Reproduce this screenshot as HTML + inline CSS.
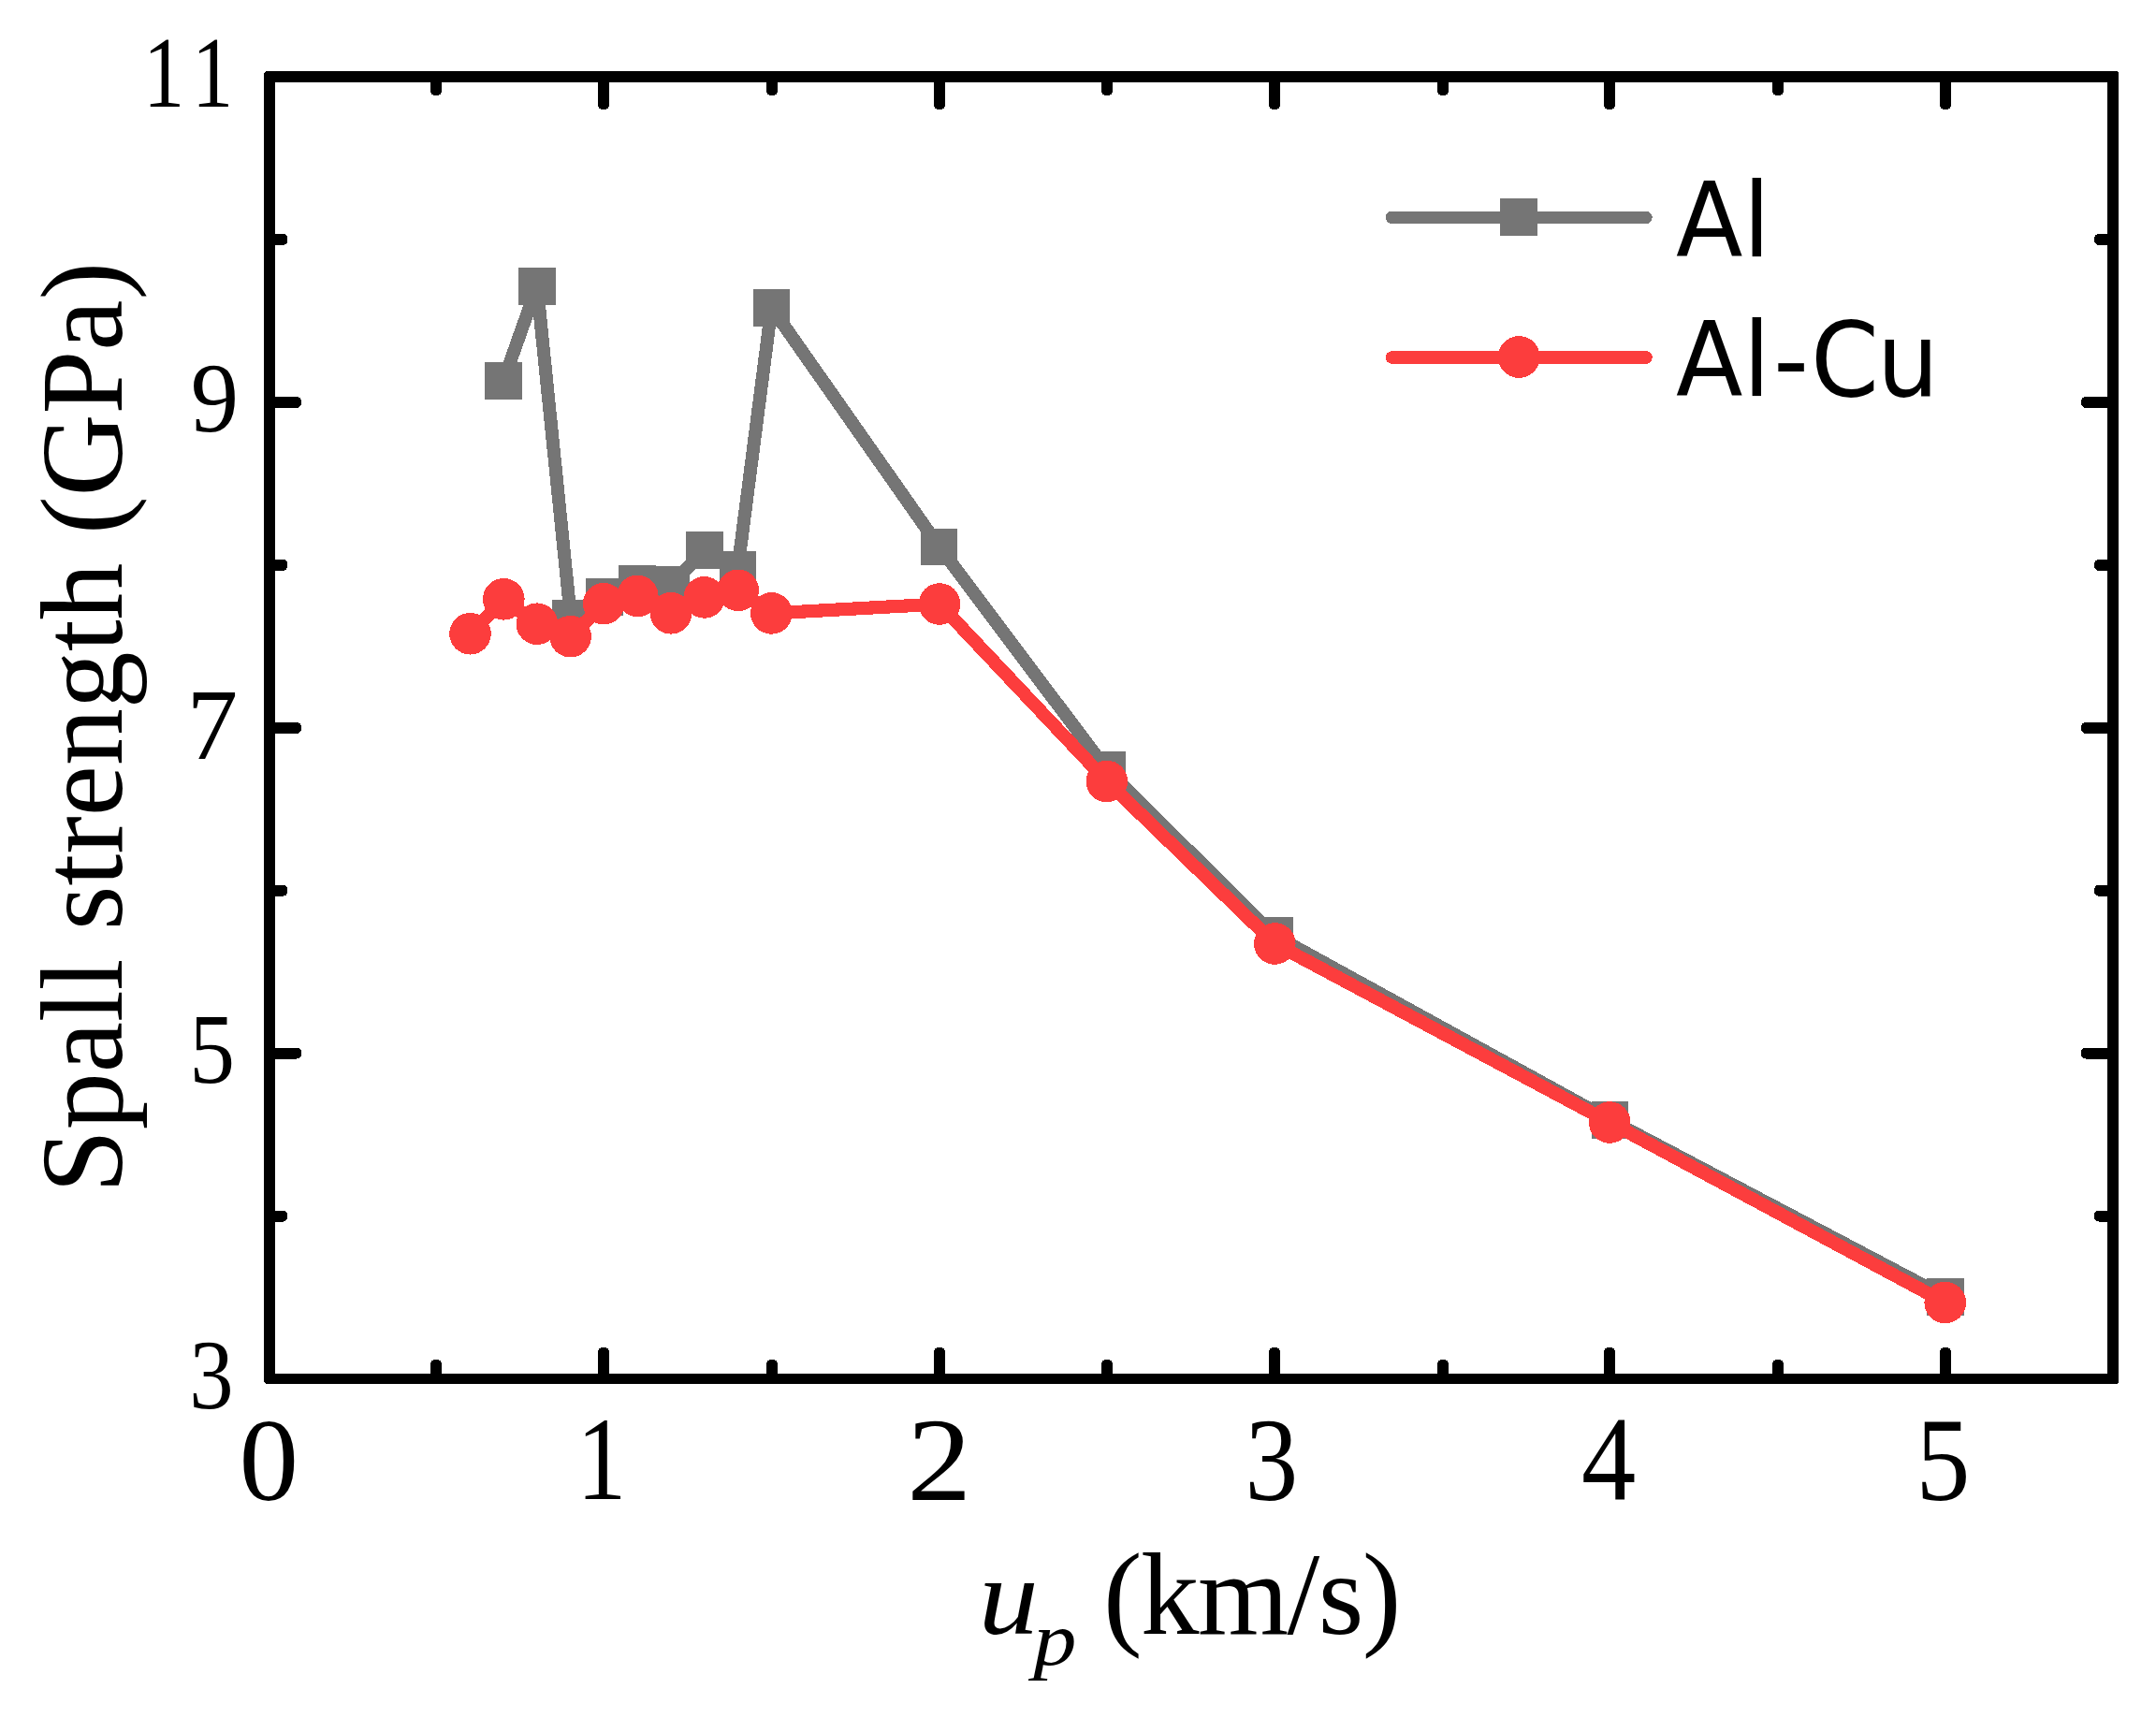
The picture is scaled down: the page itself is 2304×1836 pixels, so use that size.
<!DOCTYPE html>
<html lang="en"><head><meta charset="utf-8"><title>Spall strength vs particle velocity</title>
<style>html,body{margin:0;padding:0;background:#fff;}body{width:2304px;height:1836px;overflow:hidden;}svg{display:block;}.ser{font-family:"Liberation Serif",serif;fill:#000;}</style></head><body>
<svg width="2304" height="1836" viewBox="0 0 2304 1836">
<rect x="0" y="0" width="2304" height="1836" fill="#ffffff"/>
<g id="series-al" shape-rendering="crispEdges">
<polyline points="538.0,406.9 573.9,306.1 610.0,660.8 646.0,638.0 681.0,624.0 717.3,624.8 753.0,587.9 788.3,608.8 824.5,328.8 1003.6,584.3 1183.0,823.0 1362.3,1000.0 1720.3,1196.8 2079.0,1386.0" fill="none" stroke="#757575" stroke-width="14.0" stroke-linejoin="round" stroke-linecap="round"/>
<rect x="518.2" y="387.1" width="39.6" height="39.6" fill="#757575"/>
<rect x="554.1" y="286.3" width="39.6" height="39.6" fill="#757575"/>
<rect x="590.2" y="641.0" width="39.6" height="39.6" fill="#757575"/>
<rect x="626.2" y="618.2" width="39.6" height="39.6" fill="#757575"/>
<rect x="661.2" y="604.2" width="39.6" height="39.6" fill="#757575"/>
<rect x="697.5" y="605.0" width="39.6" height="39.6" fill="#757575"/>
<rect x="733.2" y="568.1" width="39.6" height="39.6" fill="#757575"/>
<rect x="768.5" y="589.0" width="39.6" height="39.6" fill="#757575"/>
<rect x="804.7" y="309.0" width="39.6" height="39.6" fill="#757575"/>
<rect x="983.8" y="564.5" width="39.6" height="39.6" fill="#757575"/>
<rect x="1163.2" y="803.2" width="39.6" height="39.6" fill="#757575"/>
<rect x="1342.5" y="980.2" width="39.6" height="39.6" fill="#757575"/>
<rect x="1700.5" y="1177.0" width="39.6" height="39.6" fill="#757575"/>
<rect x="2059.2" y="1366.2" width="39.6" height="39.6" fill="#757575"/>
</g>
<g id="series-alcu" shape-rendering="crispEdges">
<polyline points="502.5,677.2 538.3,640.3 573.9,666.7 609.6,680.2 645.2,645.2 681.3,636.9 717.0,655.3 752.7,638.4 788.7,630.8 824.4,655.4 1004.0,645.5 1182.8,835.0 1362.3,1008.5 1720.2,1199.5 2078.7,1392.0" fill="none" stroke="#FC3D3D" stroke-width="14.2" stroke-linejoin="round" stroke-linecap="round"/>
<circle cx="502.5" cy="677.2" r="22.3" fill="#FC3D3D"/>
<circle cx="538.3" cy="640.3" r="22.3" fill="#FC3D3D"/>
<circle cx="573.9" cy="666.7" r="22.3" fill="#FC3D3D"/>
<circle cx="609.6" cy="680.2" r="22.3" fill="#FC3D3D"/>
<circle cx="645.2" cy="645.2" r="22.3" fill="#FC3D3D"/>
<circle cx="681.3" cy="636.9" r="22.3" fill="#FC3D3D"/>
<circle cx="717.0" cy="655.3" r="22.3" fill="#FC3D3D"/>
<circle cx="752.7" cy="638.4" r="22.3" fill="#FC3D3D"/>
<circle cx="788.7" cy="630.8" r="22.3" fill="#FC3D3D"/>
<circle cx="824.4" cy="655.4" r="22.3" fill="#FC3D3D"/>
<circle cx="1004.0" cy="645.5" r="22.3" fill="#FC3D3D"/>
<circle cx="1182.8" cy="835.0" r="22.3" fill="#FC3D3D"/>
<circle cx="1362.3" cy="1008.5" r="22.3" fill="#FC3D3D"/>
<circle cx="1720.2" cy="1199.5" r="22.3" fill="#FC3D3D"/>
<circle cx="2078.7" cy="1392.0" r="22.3" fill="#FC3D3D"/>
</g>
<g id="ticks" fill="#000" shape-rendering="crispEdges">
<rect x="460.0" y="78.0" width="12.0" height="24.0" rx="5.0"/>
<rect x="460.0" y="1453.0" width="12.0" height="24.5" rx="5.0"/>
<rect x="639.0" y="78.0" width="12.0" height="39.0" rx="5.0"/>
<rect x="639.0" y="1440.0" width="12.0" height="37.5" rx="5.0"/>
<rect x="819.0" y="78.0" width="12.0" height="24.0" rx="5.0"/>
<rect x="819.0" y="1453.0" width="12.0" height="24.5" rx="5.0"/>
<rect x="998.0" y="78.0" width="12.0" height="39.0" rx="5.0"/>
<rect x="998.0" y="1440.0" width="12.0" height="37.5" rx="5.0"/>
<rect x="1177.0" y="78.0" width="12.0" height="24.0" rx="5.0"/>
<rect x="1177.0" y="1453.0" width="12.0" height="24.5" rx="5.0"/>
<rect x="1356.0" y="78.0" width="12.0" height="39.0" rx="5.0"/>
<rect x="1356.0" y="1440.0" width="12.0" height="37.5" rx="5.0"/>
<rect x="1536.0" y="78.0" width="12.0" height="24.0" rx="5.0"/>
<rect x="1536.0" y="1453.0" width="12.0" height="24.5" rx="5.0"/>
<rect x="1714.0" y="78.0" width="12.0" height="39.0" rx="5.0"/>
<rect x="1714.0" y="1440.0" width="12.0" height="37.5" rx="5.0"/>
<rect x="1894.0" y="78.0" width="12.0" height="24.0" rx="5.0"/>
<rect x="1894.0" y="1453.0" width="12.0" height="24.5" rx="5.0"/>
<rect x="2073.0" y="78.0" width="12.0" height="39.0" rx="5.0"/>
<rect x="2073.0" y="1440.0" width="12.0" height="37.5" rx="5.0"/>
<rect x="284.0" y="1293.6" width="23.4" height="12.0" rx="5.0"/>
<rect x="2238.0" y="1293.6" width="24.0" height="12.0" rx="5.0"/>
<rect x="284.0" y="1119.6" width="38.0" height="12.0" rx="5.0"/>
<rect x="2224.0" y="1119.6" width="38.0" height="12.0" rx="5.0"/>
<rect x="284.0" y="945.7" width="23.4" height="12.0" rx="5.0"/>
<rect x="2238.0" y="945.7" width="24.0" height="12.0" rx="5.0"/>
<rect x="284.0" y="771.8" width="38.0" height="12.0" rx="5.0"/>
<rect x="2224.0" y="771.8" width="38.0" height="12.0" rx="5.0"/>
<rect x="284.0" y="597.8" width="23.4" height="12.0" rx="5.0"/>
<rect x="2238.0" y="597.8" width="24.0" height="12.0" rx="5.0"/>
<rect x="284.0" y="423.9" width="38.0" height="12.0" rx="5.0"/>
<rect x="2224.0" y="423.9" width="38.0" height="12.0" rx="5.0"/>
<rect x="284.0" y="249.9" width="23.4" height="12.0" rx="5.0"/>
<rect x="2238.0" y="249.9" width="24.0" height="12.0" rx="5.0"/>
</g>
<path fill="#000" fill-rule="evenodd" shape-rendering="crispEdges" d="M284.0 76.0H2262.0L2264.0 78.0V1477.0L2262.0 1479.0H284.0L282.0 1477.0V78.0Z M294.0 88.0H2252.0V1468.0H294.0Z"/>
<g class="ser" font-size="104">
<text transform="translate(0,113.90) scale(0.8500,1.0294)" x="180.09 241.26" y="0">11</text>
<text transform="translate(0,460.99) scale(0.9867,1.0143)" x="206.49" y="0">9</text>
<text transform="translate(0,810.90) scale(1.0524,1.0279)" x="189.60" y="0">7</text>
<text transform="translate(0,1156.98) scale(0.9381,1.0174)" x="215.51" y="0">5</text>
<text transform="translate(0,1504.98) scale(0.9105,1.0157)" x="222.25" y="0">3</text>
</g>
<g class="ser" font-size="125">
<text transform="translate(0,1603.00) scale(1.0170,1.0000)" x="251.35" y="0">0</text>
<text transform="translate(0,1602.40) scale(0.8500,1.0171)" x="724.94" y="0">1</text>
<text transform="translate(0,1603.00) scale(1.1040,1.0145)" x="877.97" y="0">2</text>
<text transform="translate(0,1603.08) scale(0.9077,1.0155)" x="1465.75" y="0">3</text>
<text transform="translate(0,1603.00) scale(0.9322,1.0268)" x="1813.05" y="0">4</text>
<text transform="translate(0,1603.09) scale(0.9265,1.0145)" x="2209.85" y="0">5</text>
</g>
<text class="ser" font-size="125" text-anchor="middle" transform="translate(130,777.5) rotate(-90) scale(0.975,1)">Spall strength (GPa)</text>
<text class="ser" font-size="125" font-style="italic" transform="translate(1045.75,1745.6) scale(1.025,0.932)">u</text>
<text class="ser" font-size="88" font-style="italic" transform="translate(1104.25,1779.4) scale(1.05,0.904)">p</text>
<text class="ser" font-size="125" x="1179" y="1745.5" letter-spacing="-1.6">(km/s)</text>
<g id="legend" shape-rendering="crispEdges">
<line x1="1487.5" y1="232.4" x2="1759" y2="232.4" stroke="#757575" stroke-width="13.4" stroke-linecap="round"/>
<rect x="1603.0" y="211.8" width="40" height="40" fill="#757575"/>
<line x1="1487.5" y1="382" x2="1759" y2="382" stroke="#FC3D3D" stroke-width="13.6" stroke-linecap="round"/>
<circle cx="1623.3" cy="381.5" r="22.4" fill="#FC3D3D"/>
<g font-family='"DejaVu Sans","Liberation Sans",sans-serif' font-size="100" fill="#000">
<text transform="translate(0,274.45) scale(1.0450,1.0960)" x="1713.78 1782.62" y="0">Al</text>
<text transform="translate(0,422.88) scale(1.0450,1.0960)" x="1713.78 1782.62 1813.67 1851.56 1919.27" y="0">Al-Cu</text>
</g>
</g>
</svg></body></html>
